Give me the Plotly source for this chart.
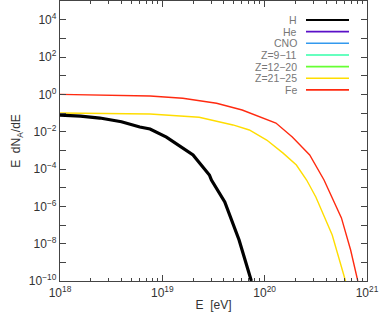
import numpy as np
import plotly.graph_objects as go

# Data: log10(E/eV) and log10(E dN/dE)
h_logE = [18.0, 18.2, 18.39, 18.6, 18.78, 18.88, 19.04, 19.2, 19.3, 19.34, 19.46, 19.48, 19.61, 19.75, 19.87]
h_logY = [-1.11, -1.17, -1.27, -1.47, -1.75, -1.86, -2.29, -2.87, -3.25, -3.52, -4.32, -4.59, -5.77, -7.8, -10.0]

fe_logE = [18.0, 18.4, 18.88, 19.2, 19.53, 19.78, 19.95, 20.11, 20.27, 20.3, 20.44, 20.58, 20.75, 20.84, 20.91]
fe_logY = [0.0, -0.04, -0.09, -0.21, -0.48, -0.84, -1.21, -1.54, -2.29, -2.45, -3.25, -4.59, -6.62, -8.34, -10.0]

z2125_logE = [18.0, 18.88, 19.36, 19.69, 19.85, 20.02, 20.18, 20.31, 20.41, 20.5, 20.66, 20.79]
z2125_logY = [-1.0, -1.05, -1.23, -1.64, -1.91, -2.45, -3.15, -3.79, -4.59, -5.5, -7.54, -10.0]

legend_names = ["H", "He", "CNO", "Z=9\u221211", "Z=12\u221220", "Z=21\u221225", "Fe"]
legend_colors = ["#000000", "#5a10c8", "#3399ee", "#33ffaa", "#66ff33", "#ffdd00", "#ff2a10"]

x_tick_exp = [18, 19, 20, 21]
y_tick_exp = [-10, -8, -6, -4, -2, 0, 2, 4]

fig = go.Figure()
fig.add_trace(go.Scatter(x=10 ** np.array(z2125_logE), y=10 ** np.array(z2125_logY), mode="lines",
                         line=dict(color=legend_colors[5], width=1.4), showlegend=False))
fig.add_trace(go.Scatter(x=10 ** np.array(fe_logE), y=10 ** np.array(fe_logY), mode="lines",
                         line=dict(color=legend_colors[6], width=1.4), showlegend=False))
fig.add_trace(go.Scatter(x=10 ** np.array(h_logE), y=10 ** np.array(h_logY), mode="lines",
                         line=dict(color=legend_colors[0], width=3.2), showlegend=False))

# manual legend (text left of line sample)
W, H = 379, 320
ml, mr, mt, mb = 60, 12, 1, 39
pw, ph = W - ml - mr, H - mt - mb
def px(x):
    return (x - ml) / pw
def py(y):
    return 1 - (y - mt) / ph
for i, (n, c) in enumerate(zip(legend_names, legend_colors)):
    yy = 20 + i * 11.65
    fig.add_annotation(x=px(299), y=py(yy), xref="paper", yref="paper", text=n, showarrow=False,
                       xanchor="right", yanchor="middle", font=dict(size=10.5, color="#777777"))
    fig.add_shape(type="line", xref="paper", yref="paper", x0=px(306), x1=px(349), y0=py(yy), y1=py(yy),
                  line=dict(color=c, width=2 if i == 0 else 1.6))

axis_common = dict(type="log", showline=True, linecolor="#444444", linewidth=1.3, mirror="allticks",
                   ticks="inside", tickcolor="#444444", showgrid=False, zeroline=False, automargin=False,
                   tickfont=dict(size=12, color="#333333", family="Liberation Sans, Arial, sans-serif"))
fig.update_xaxes(range=[18, 21], tickvals=[10.0 ** e for e in x_tick_exp],
                 ticktext=["10<sup>%d</sup>" % e for e in x_tick_exp], ticklen=6,
                 minor=dict(ticks="inside", dtick="D1", ticklen=3, tickcolor="#444444", showgrid=False),
                 title=dict(text="E  [eV]", font=dict(size=12, color="#333333"), standoff=2),
                 **axis_common)
fig.update_yaxes(range=[-10, 5], tickvals=[10.0 ** e for e in y_tick_exp],
                 ticktext=["10<sup>%s</sup>" % (("\u2212%d" % -e) if e < 0 else "%d" % e) for e in y_tick_exp],
                 ticklen=6,
                 minor=dict(ticks="inside", dtick=1, ticklen=6, tickcolor="#444444", showgrid=False),
                 title=dict(text="E  dN<sub>A</sub>/dE", font=dict(size=12, color="#333333"), standoff=5),
                 **axis_common)
fig.update_layout(width=W, height=H, margin=dict(l=ml, r=mr, t=mt, b=mb),
                  paper_bgcolor="white", plot_bgcolor="white",
                  font=dict(family="Liberation Sans, Arial, sans-serif"))
fig.write_html("out.html", config={"displayModeBar": False},
               post_script="document.body.style.margin='0';document.body.style.overflow='hidden';")
